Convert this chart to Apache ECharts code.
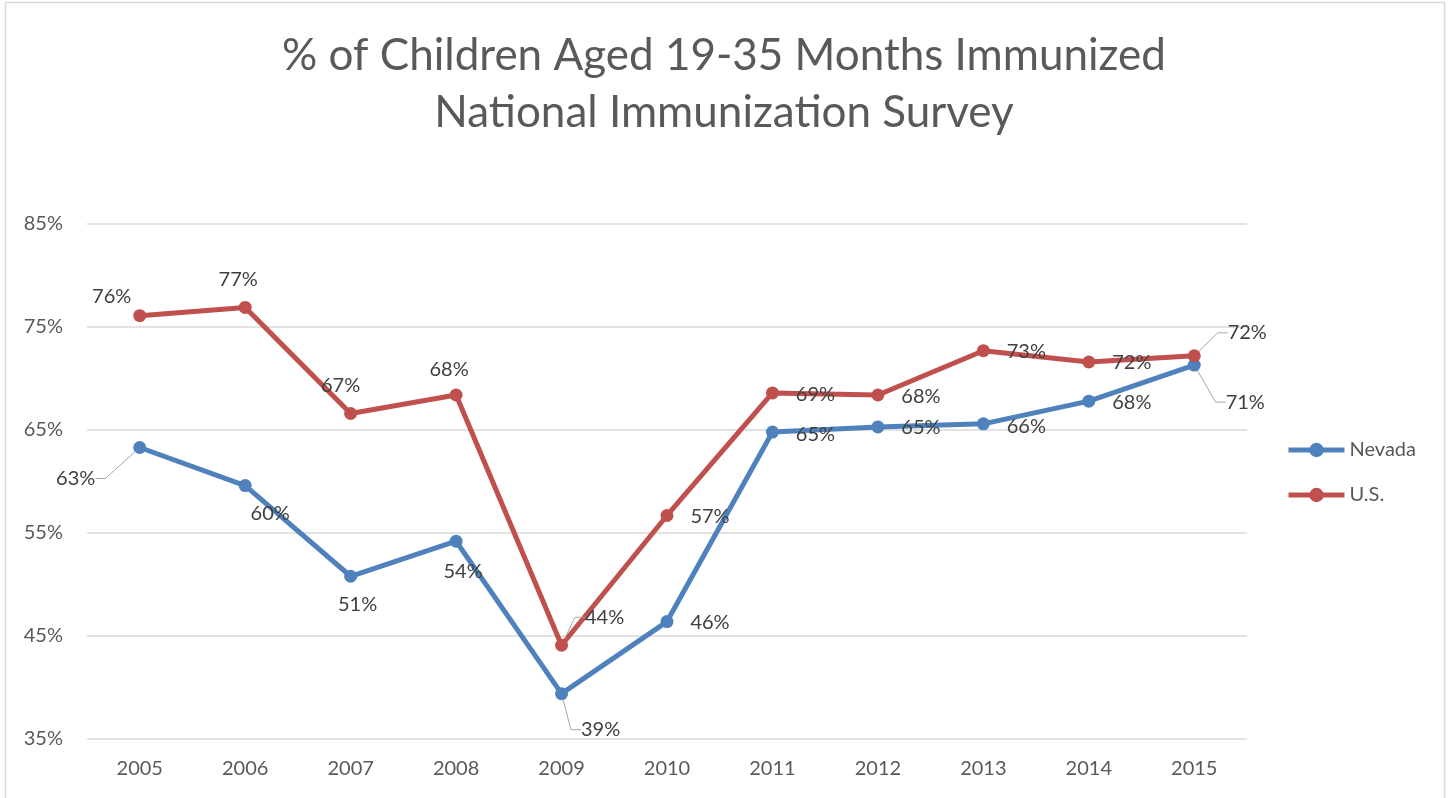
<!DOCTYPE html>
<html>
<head>
<meta charset="utf-8">
<script src="https://cdn.jsdelivr.net/npm/echarts@6/dist/echarts.min.js"></script>
<style>
html,body{margin:0;padding:0;background:#fff;}
#chart{width:1448px;height:798px;}
</style>
</head>
<body>
<div id="chart"></div>
<script>
// ---- data ----
const years = ['2005','2006','2007','2008','2009','2010','2011','2012','2013','2014','2015'];
const nevada = [63.3, 59.6, 50.8, 54.2, 39.4, 46.4, 64.8, 65.3, 65.6, 67.8, 71.3];
const us     = [76.1, 76.9, 66.6, 68.4, 44.1, 56.7, 68.6, 68.4, 72.7, 71.6, 72.2];
const yTicks = [35, 45, 55, 65, 75, 85];
const seriesNames = ['Nevada', 'U.S.'];
const titleLines = ['% of Children Aged 19-35 Months Immunized', 'National Immunization Survey'];

// ---- label placement (style, not data) ----
const nvOffsets = [[-64,31],[25,28],[7,28],[7,30],[39,36],[43,1],[43,2],[43,1],[43,3],[43,1],[51,37]];
const usOffsets = [[-28,-19],[-7,-28],[-10,-28],[-7,-25],[43,-28],[43,1],[43,2],[43,2],[43,1],[43,1],[53,-23]];
const nvLeader = [true,false,false,false,true,false,false,false,false,false,true];
const usLeader = [false,false,false,false,true,false,false,false,false,false,true];

const BLUE = '#4F81BD', RED = '#C0504D';
const labelFont = 'Lato, "Open Sans", sans-serif';

function buildData(vals, offs, leads) {
  return vals.map((v, i) => ({
    value: v,
    label: { offset: offs[i] },
    labelLine: { show: leads[i], length2: 10, lineStyle: { color: '#a6a6a6', width: 1 } }
  }));
}

function mkSeries(name, vals, offs, leads, color) {
  return {
    name: name,
    type: 'line',
    data: buildData(vals, offs, leads),
    symbol: 'circle',
    symbolSize: 13,
    lineStyle: { width: 5, color: color },
    itemStyle: { color: color },
    label: {
      show: true,
      position: 'inside',
      align: 'center',
      verticalAlign: 'middle',
      color: '#404040',
      fontSize: 20,
      fontFamily: labelFont,
      formatter: p => Math.round(p.value) + '%'
    },
    emphasis: { disabled: true }
  };
}

const chart = echarts.init(document.getElementById('chart'));
chart.setOption({
  animation: false,
  backgroundColor: '#ffffff',
  title: {
    text: titleLines.join('\n'),
    left: 'center',
    top: 22,
    textStyle: {
      fontFamily: labelFont,
      fontWeight: 400,
      fontSize: 44,
      lineHeight: 57,
      color: '#595959'
    }
  },
  graphic: [{
    type: 'rect',
    shape: { x: 5.5, y: 2.5, width: 1439, height: 820 },
    style: { fill: 'none', stroke: '#d9d9d9', lineWidth: 1.5 },
    silent: true
  }],
  legend: {
    data: seriesNames,
    orient: 'vertical',
    left: 1281,
    top: 435,
    itemWidth: 56,
    itemHeight: 18,
    itemGap: 25,
    lineStyle: { width: 5 },
    textStyle: { color: '#595959', fontSize: 20, fontFamily: labelFont }
  },
  grid: { left: 87, right: 201, top: 224, bottom: 59, containLabel: false },
  xAxis: {
    type: 'category',
    data: years,
    boundaryGap: true,
    axisLine: { show: false },
    axisTick: { show: false },
    axisLabel: { color: '#595959', fontSize: 20, fontFamily: labelFont, margin: 20 }
  },
  yAxis: {
    type: 'value',
    min: yTicks[0],
    max: yTicks[yTicks.length - 1],
    interval: yTicks[1] - yTicks[0],
    axisLine: { show: false },
    axisTick: { show: false },
    axisLabel: { color: '#595959', fontSize: 20, fontFamily: labelFont, margin: 24, formatter: '{value}%' },
    splitLine: { lineStyle: { color: '#d9d9d9', width: 1.5 } }
  },
  series: [
    mkSeries(seriesNames[0], nevada, nvOffsets, nvLeader, BLUE),
    mkSeries(seriesNames[1], us, usOffsets, usLeader, RED)
  ]
});
</script>
</body>
</html>
